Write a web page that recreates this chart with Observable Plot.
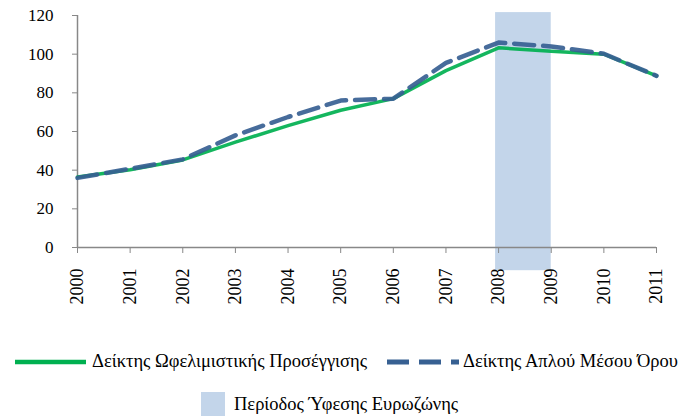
<!DOCTYPE html>
<html>
<head>
<meta charset="utf-8">
<script src="https://cdn.jsdelivr.net/npm/d3@7"></script>
<script src="https://cdn.jsdelivr.net/npm/@observablehq/plot@0.6"></script>
<style>
  body { margin: 0; background: #fff; }
  #wrap { position: relative; width: 697px; height: 419px; font-family: "Liberation Serif", "DejaVu Serif", serif; }
  .leg { position: absolute; font-size: 18.5px; color: #000; white-space: nowrap; line-height: 20px; height: 20px; }
  #swatches { position: absolute; left: 0; top: 0; }
</style>
</head>
<body>
<div id="wrap">
  <div id="chart"></div>
  <svg id="swatches" width="697" height="419">
    <line x1="15" y1="362" x2="86" y2="362" stroke="#00b050" stroke-width="4.5"/>
    <line x1="387" y1="362" x2="459" y2="362" stroke="#376092" stroke-width="5" stroke-dasharray="22,10"/>
    <rect x="201" y="392" width="24" height="24" fill="#c3d5ea"/>
  </svg>
  <span class="leg" style="left:92px; top:351px;">Δείκτης Ωφελιμιστικής Προσέγγισης</span>
  <span class="leg" style="left:463px; top:351px;">Δείκτης Απλού Μέσου Όρου</span>
  <span class="leg" style="left:234px; top:394px;">Περίοδος Ύφεσης Ευρωζώνης</span>
</div>
<script>
const years = [2000, 2001, 2002, 2003, 2004, 2005, 2006, 2007, 2008, 2009, 2010, 2011];
const utilitarian = [36.5, 40.2, 45.3, 54.5, 63, 71, 77, 91.5, 103.3, 101.5, 100, 88.8];
const simpleMean = [36, 40.7, 45.6, 58, 67.5, 76, 77, 95.5, 106, 104, 100.2, 88.8];
const recession = [{start: 2008, end: 2009}];
const yTicks = [0, 20, 40, 60, 80, 100, 120];
const seriesNames = ["Δείκτης Ωφελιμιστικής Προσέγγισης", "Δείκτης Απλού Μέσου Όρου"];

const rowsU = years.map((y, i) => ({year: y, value: utilitarian[i]}));
const rowsM = years.map((y, i) => ({year: y, value: simpleMean[i]}));

const chart = Plot.plot({
  width: 697,
  height: 330,
  marginLeft: 77,
  marginRight: 41,
  marginTop: 15,
  marginBottom: 83,
  style: {fontFamily: "'Liberation Serif', 'DejaVu Serif', serif", fontSize: "17px", color: "#000", background: "#fff"},
  x: {domain: [2000, 2011], ticks: years, tickFormat: d => String(d), label: null},
  y: {domain: [0, 120], ticks: yTicks, label: null},
  marks: [
    Plot.rect(recession, {x1: "start", x2: "end", y1: -12, y2: 121.5, fill: "#c3d5ea", insetLeft: -3}),
    Plot.axisY({ticks: yTicks, tickSize: 5, tickPadding: 19, stroke: "#888", fontSize: 17, label: null, anchor: "left"}),
    Plot.ruleX([2000], {stroke: "#888", strokeWidth: 1.5, y1: 0, y2: 120}),
    Plot.axisX({ticks: years, tickSize: 6, tickRotate: -90, tickPadding: 15, stroke: "#888", fontSize: 18, label: null, tickFormat: d => String(d)}),
    Plot.ruleY([0], {stroke: "#888", strokeWidth: 1.5}),
    Plot.line(rowsU, {x: "year", y: "value", stroke: "#00b050", strokeWidth: 3.5, strokeOpacity: 0.92}),
    Plot.line(rowsM, {x: "year", y: "value", stroke: "#376092", strokeWidth: 4.5, strokeDasharray: "20,9", strokeOpacity: 0.92})
  ]
});
document.getElementById("chart").appendChild(chart);
</script>
</body>
</html>
